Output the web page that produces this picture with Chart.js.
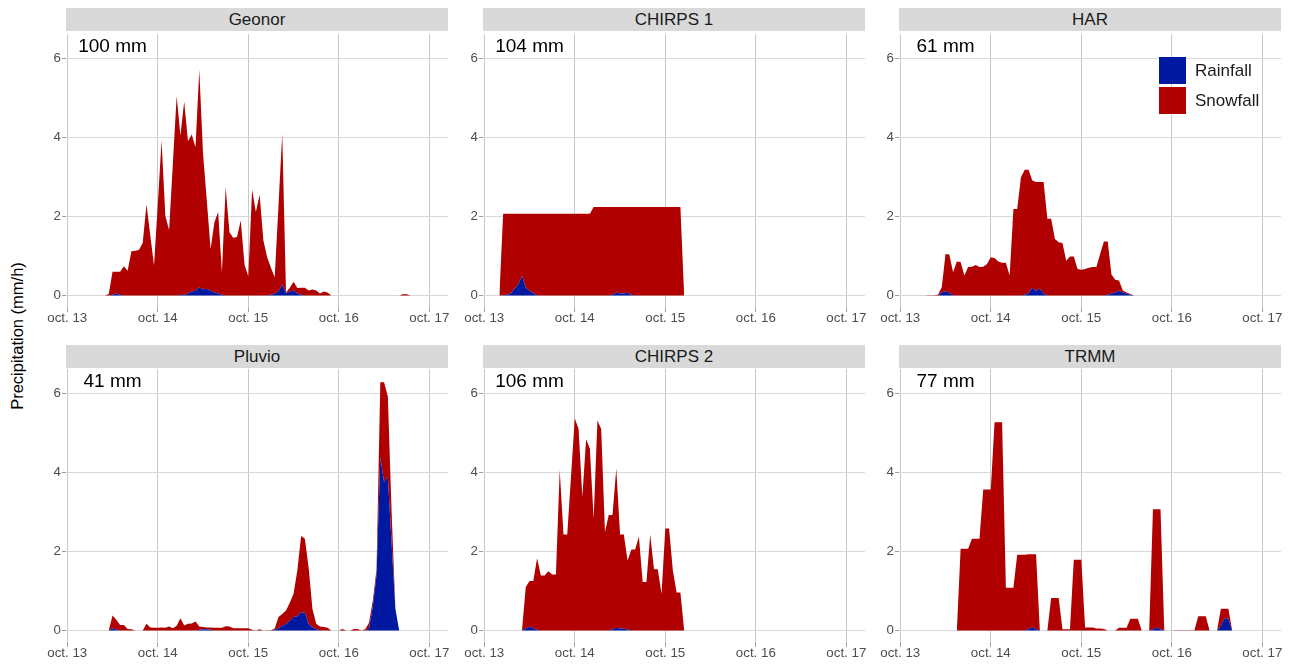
<!DOCTYPE html>
<html>
<head>
<meta charset="utf-8">
<title>Precipitation</title>
<script src="https://cdn.jsdelivr.net/npm/chart.js@4.4.1/dist/chart.umd.min.js"></script>
<style>
  body { margin: 0; background: #fff; font-family: "Liberation Sans", Arial, sans-serif; }
  #page { position: relative; width: 1290px; height: 664px; overflow: hidden; }
  .box { position: absolute; width: 452px; height: 314px; }
  .strip { position: absolute; width: 382px; height: 23px; line-height: 23px; background: #d9d9d9;
           color: #1a1a1a; font-size: 17px; text-align: center; }
  #ytitle { position: absolute; left: 17px; top: 336px; transform: translate(-50%, -50%) rotate(-90deg);
            font-size: 16.5px; color: #000; white-space: nowrap; }
  #legend { position: absolute; left: 1159px; top: 57px; z-index: 2; }
  .item { display: flex; align-items: center; height: 27px; margin-bottom: 3px; font-size: 17px; color: #1a1a1a; }
  .key { width: 27px; height: 27px; margin-right: 9px; }
</style>
</head>
<body>
<div id="page">
  <div id="ytitle">Precipitation (mm/h)</div>
  <div id="legend"></div>
</div>
<script>
const tickHours = [0, 24, 48, 72, 96];   // hours after oct. 13 00:00
const tickLabels = ['oct. 13', 'oct. 14', 'oct. 15', 'oct. 16', 'oct. 17'];
const yTicks = [0, 2, 4, 6];
const seriesNames = ['Rainfall', 'Snowfall'];
const panelNames = ['Geonor', 'CHIRPS 1', 'HAR', 'Pluvio', 'CHIRPS 2', 'TRMM'];
const panelTotals = ['100 mm', '104 mm', '61 mm', '41 mm', '106 mm', '77 mm'];
// first hour of each hourly record
const startHours = [10, 4, 7, 11, 10, 15];

const geonorRain = [
  0, 0, 0.02, 0.05, 0.02, 0, 0, 0, 0, 0,
  0, 0, 0, 0, 0, 0, 0, 0, 0, 0,
  0.02, 0.01, 0.06, 0.10, 0.12, 0.21, 0.15, 0.17, 0.12, 0.08,
  0.05, 0.02, 0, 0, 0, 0, 0, 0, 0, 0,
  0, 0, 0, 0, 0.02, 0.05, 0.10, 0.28, 0.06, 0.10,
  0.13, 0.05, 0.02, 0, 0, 0, 0, 0, 0, 0,
  0, 0, 0, 0, 0, 0, 0, 0, 0, 0,
  0, 0, 0, 0, 0, 0, 0, 0, 0, 0,
  0, 0];
const geonorSnow = [
  0, 0.04, 0.58, 0.55, 0.58, 0.74, 0.63, 1.12, 1.13, 1.15,
  1.33, 2.30, 1.53, 0.76, 2.30, 3.92, 2.02, 1.66, 3.35, 5.04,
  4.03, 4.90, 3.84, 3.97, 3.63, 5.50, 3.43, 2.23, 1.06, 1.77,
  2.06, 0.57, 2.74, 1.60, 1.46, 1.48, 1.90, 0.78, 0.48, 2.68,
  2.11, 2.55, 1.39, 0.97, 0.68, 0.41, 2.17, 3.81, 0.02, 0.10,
  0.22, 0.14, 0.18, 0.20, 0.13, 0.15, 0.13, 0.05, 0.10, 0.08,
  0, 0, 0, 0, 0, 0, 0, 0, 0, 0,
  0, 0, 0, 0, 0, 0, 0, 0, 0, 0.03,
  0.03, 0];

const chirps1Rain = [
  0, 0.01, 0.02, 0.05, 0.17, 0.28, 0.50, 0.20, 0.12, 0.06,
  0.01, 0, 0, 0, 0, 0, 0, 0, 0, 0,
  0, 0, 0, 0, 0, 0, 0, 0, 0, 0,
  0.02, 0.08, 0.05, 0.05, 0.07, 0.02, 0, 0, 0, 0,
  0, 0, 0, 0, 0, 0, 0, 0, 0, 0];
const chirps1Snow = [
  0, 2.06, 2.05, 2.02, 1.90, 1.79, 1.57, 1.87, 1.95, 2.01,
  2.06, 2.07, 2.07, 2.07, 2.07, 2.07, 2.07, 2.07, 2.07, 2.07,
  2.07, 2.07, 2.07, 2.07, 2.07, 2.24, 2.24, 2.24, 2.24, 2.24,
  2.22, 2.16, 2.19, 2.19, 2.17, 2.22, 2.24, 2.24, 2.24, 2.24,
  2.24, 2.24, 2.24, 2.24, 2.24, 2.24, 2.24, 2.24, 2.24, 0];

const harRain = [
  0, 0, 0, 0, 0.08, 0.11, 0.07, 0.01, 0, 0,
  0, 0, 0, 0, 0, 0, 0, 0, 0, 0,
  0, 0, 0, 0, 0, 0, 0.02, 0.06, 0.20, 0.12,
  0.17, 0.05, 0, 0, 0, 0, 0, 0, 0, 0,
  0, 0, 0, 0, 0, 0, 0, 0, 0.02, 0.05,
  0.08, 0.13, 0.08, 0.05, 0.02, 0];
const harSnow = [
  0.01, 0.01, 0.01, 0.02, 0.13, 0.94, 0.97, 0.58, 0.86, 0.85,
  0.51, 0.72, 0.73, 0.77, 0.72, 0.73, 0.80, 0.97, 0.95, 0.86,
  0.83, 0.83, 0.51, 2.19, 2.19, 2.99, 3.16, 3.12, 2.71, 2.75,
  2.70, 2.82, 1.94, 1.94, 1.43, 1.35, 1.33, 0.88, 0.99, 0.99,
  0.67, 0.65, 0.67, 0.70, 0.72, 0.72, 1.05, 1.37, 1.35, 0.48,
  0.32, 0.25, 0.05, 0.03, 0.02, 0];

const pluvioRain = [
  0, 0.06, 0.02, 0, 0, 0, 0, 0, 0, 0,
  0, 0, 0, 0, 0, 0, 0, 0, 0, 0,
  0, 0, 0, 0, 0.02, 0.03, 0.03, 0.02, 0, 0,
  0, 0, 0, 0, 0, 0, 0, 0, 0, 0,
  0, 0, 0, 0, 0.02, 0.06, 0.12, 0.17, 0.25, 0.34,
  0.36, 0.46, 0.45, 0.17, 0.08, 0.04, 0.01, 0, 0, 0,
  0, 0, 0, 0, 0, 0, 0, 0, 0, 0.05,
  0.60, 1.40, 4.39, 3.76, 3.89, 2.20, 0.55, 0];
const pluvioSnow = [
  0, 0.32, 0.25, 0.14, 0.14, 0.04, 0.03, 0, 0, 0,
  0.17, 0.08, 0.07, 0.07, 0.08, 0.07, 0.10, 0.06, 0.12, 0.31,
  0.13, 0.17, 0.18, 0.23, 0.08, 0.06, 0.05, 0.06, 0.07, 0.07,
  0.07, 0.11, 0.10, 0.06, 0.06, 0.06, 0.06, 0.06, 0.02, 0,
  0.03, 0, 0.01, 0.01, 0.03, 0.28, 0.30, 0.34, 0.45, 0.59,
  1.16, 1.93, 1.87, 1.42, 0.47, 0.13, 0.09, 0.09, 0.07, 0,
  0, 0, 0.04, 0, 0, 0.04, 0.04, 0, 0.03, 0.15,
  0.15, 0.15, 1.89, 2.52, 2.03, 0.80, 0, 0];

const chirps2Rain = [
  0, 0.05, 0.10, 0.06, 0.02, 0, 0, 0, 0, 0,
  0, 0, 0, 0, 0, 0, 0, 0, 0, 0,
  0, 0, 0, 0, 0.03, 0.07, 0.05, 0.05, 0.02, 0.01,
  0, 0, 0, 0, 0, 0, 0, 0, 0, 0,
  0, 0, 0, 0];
const chirps2Snow = [
  0, 1.05, 1.15, 1.19, 1.81, 1.39, 1.39, 1.50, 1.42, 1.42,
  4.06, 2.43, 2.43, 3.90, 5.37, 5.10, 3.38, 4.84, 4.60, 2.83,
  5.31, 5.10, 2.49, 2.92, 2.89, 4.03, 2.38, 2.38, 1.75, 2.04,
  2.05, 2.38, 1.23, 1.23, 2.43, 1.55, 1.55, 0.93, 2.58, 2.58,
  1.52, 0.96, 0.96, 0];

const trmmRain = [
  0, 0, 0, 0, 0, 0, 0, 0, 0, 0,
  0, 0, 0, 0, 0, 0, 0, 0, 0.01, 0.03,
  0.09, 0.03, 0, 0, 0, 0, 0, 0, 0, 0,
  0, 0, 0, 0, 0, 0, 0, 0, 0, 0,
  0, 0, 0, 0, 0, 0, 0, 0, 0, 0,
  0, 0, 0.03, 0.08, 0.03, 0, 0, 0, 0, 0,
  0, 0, 0, 0, 0, 0, 0, 0, 0, 0,
  0.12, 0.32, 0.30, 0];
const trmmSnow = [
  0, 2.07, 2.07, 2.07, 2.32, 2.32, 2.32, 3.57, 3.57, 3.57,
  5.27, 5.27, 5.27, 1.08, 1.08, 1.08, 1.92, 1.92, 1.91, 1.90,
  1.84, 1.90, 0, 0, 0, 0.82, 0.82, 0.82, 0.03, 0.03,
  0.03, 1.79, 1.79, 1.79, 0.08, 0.08, 0.08, 0.05, 0.05, 0.04,
  0, 0, 0, 0.07, 0.07, 0.07, 0.30, 0.30, 0.30, 0,
  0, 0, 3.04, 2.99, 3.04, 0, 0, 0, 0.01, 0.01,
  0.01, 0.01, 0.01, 0.01, 0.36, 0.36, 0.36, 0, 0, 0,
  0.43, 0.23, 0.25, 0];

const rainSeries = [geonorRain, chirps1Rain, harRain, pluvioRain, chirps2Rain, trmmRain];
const snowSeries = [geonorSnow, chirps1Snow, harSnow, pluvioSnow, chirps2Snow, trmmSnow];

const RAIN_COLOR = '#0019a0';
const SNOW_COLOR = '#b00000';
const colLeft = [66, 483, 899];
const rowTop = [34, 369];
const stripTop = [8, 345];

Chart.defaults.font.family = '"Liberation Sans", Arial, sans-serif';
Chart.defaults.font.size = 13.3;
Chart.defaults.color = '#4d4d4d';

// total amount written in the top left corner of each panel
const totalLabel = {
  id: 'totalLabel',
  afterDatasetsDraw(chart, args, opts) {
    const { ctx, scales } = chart;
    ctx.save();
    ctx.font = '19px "Liberation Sans", Arial, sans-serif';
    ctx.fillStyle = '#000';
    ctx.textAlign = 'center';
    ctx.textBaseline = 'middle';
    ctx.fillText(opts.text, scales.x.getPixelForValue(12), scales.y.getPixelForValue(6.28));
    ctx.restore();
  }
};

function toPoints(start, values) {
  return values.map((v, i) => ({ x: start + i, y: v }));
}

const page = document.getElementById('page');

panelNames.forEach((name, p) => {
  const col = p % 3, row = Math.floor(p / 3);

  const strip = document.createElement('div');
  strip.className = 'strip';
  strip.style.left = colLeft[col] + 'px';
  strip.style.top = stripTop[row] + 'px';
  strip.textContent = name;
  page.appendChild(strip);

  const box = document.createElement('div');
  box.className = 'box';
  box.style.left = (colLeft[col] - 40) + 'px';
  box.style.top = (rowTop[row] - 10) + 'px';
  const canvas = document.createElement('canvas');
  box.appendChild(canvas);
  page.appendChild(box);

  new Chart(canvas, {
    type: 'line',
    data: {
      datasets: [{
        label: seriesNames[0],
        data: toPoints(startHours[p], rainSeries[p]),
        backgroundColor: RAIN_COLOR,
        borderWidth: 0,
        pointRadius: 0,
        fill: 'origin'
      }, {
        label: seriesNames[1],
        data: toPoints(startHours[p], snowSeries[p]),
        backgroundColor: SNOW_COLOR,
        borderWidth: 0,
        pointRadius: 0,
        fill: '-1'
      }]
    },
    options: {
      responsive: true,
      maintainAspectRatio: false,
      animation: false,
      layout: { padding: { top: 10, right: 30, left: 0, bottom: 0 } },
      plugins: {
        legend: { display: false },
        tooltip: { enabled: false },
        totalLabel: { text: panelTotals[p] }
      },
      scales: {
        x: {
          type: 'linear',
          min: -0.34,
          max: 100.95,
          afterBuildTicks: scale => { scale.ticks = tickHours.map(v => ({ value: v })); },
          afterFit: scale => { scale.height = 30; },
          ticks: {
            padding: -2,
            maxRotation: 0,
            callback: value => tickLabels[tickHours.indexOf(value)]
          },
          grid: { color: '#c8c8c8', tickColor: '#a0a0a0', tickLength: 4 },
          border: { display: false }
        },
        y: {
          stacked: true,
          min: -0.315,
          max: 6.615,
          afterBuildTicks: scale => { scale.ticks = yTicks.map(v => ({ value: v })); },
          afterFit: scale => { scale.width = 40; },
          ticks: { padding: 1 },
          grid: { color: '#d8d8d8', tickColor: '#a0a0a0', tickLength: 4 },
          border: { display: false }
        }
      }
    },
    plugins: [totalLabel]
  });
});

const legend = document.getElementById('legend');
seriesNames.forEach((name, i) => {
  const item = document.createElement('div');
  item.className = 'item';
  const key = document.createElement('span');
  key.className = 'key';
  key.style.background = i === 0 ? RAIN_COLOR : SNOW_COLOR;
  item.appendChild(key);
  item.appendChild(document.createTextNode(name));
  legend.appendChild(item);
});
</script>
</body>
</html>
